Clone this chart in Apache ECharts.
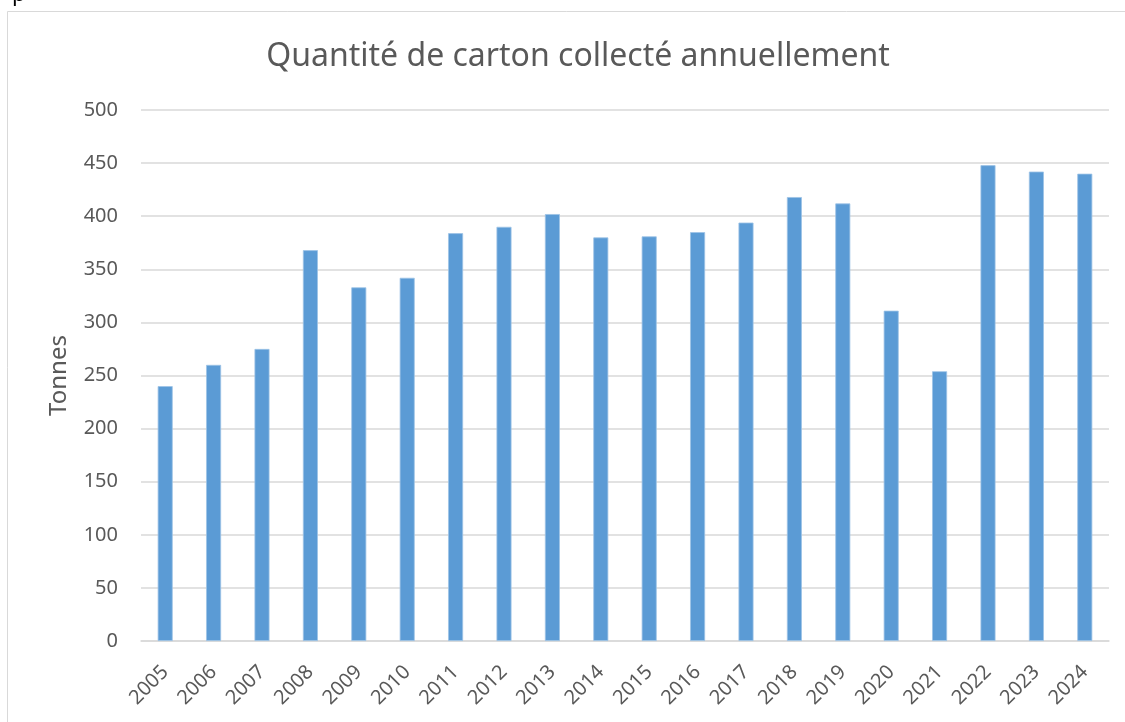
<!DOCTYPE html>
<html>
<head>
<meta charset="utf-8">
<script src="https://cdn.jsdelivr.net/npm/echarts@6/dist/echarts.min.js"></script>
<style>
html,body{margin:0;padding:0;background:#fff;}
#c{width:1125px;height:722px;}
</style>
</head>
<body>
<div id="c"></div>
<script>
const categories = ['2005','2006','2007','2008','2009','2010','2011','2012','2013','2014','2015','2016','2017','2018','2019','2020','2021','2022','2023','2024'];
const tonnes = [240, 260, 275, 368, 333, 342, 384, 390, 402, 380, 381, 385, 394, 418, 412, 311, 254, 448, 442, 440];
const titleText = 'Quantité de carton collecté annuellement';
const yAxisName = 'Tonnes';

const chart = echarts.init(document.getElementById('c'), null, {renderer: 'canvas'});
const font = '"Noto Sans", "Open Sans", sans-serif';
chart.setOption({
  animation: false,
  backgroundColor: '#ffffff',
  title: {
    text: titleText,
    left: 573, top: 36, textAlign: 'center',
    textStyle: {color: '#595959', fontSize: 32, fontWeight: 'normal', fontFamily: font}
  },
  graphic: [
    {type: 'rect', shape: {x: 7.5, y: 11.5, width: 1200, height: 800}, style: {fill: 'none', stroke: '#d9d9d9', lineWidth: 1}, silent: true},
    {type: 'text', left: 12, top: -16, style: {text: 'p', fill: '#000', font: '22px "Noto Sans"'}, silent: true}
  ],
  grid: {left: 141, right: 16, top: 110, bottom: 81, containLabel: false},
  xAxis: {
    type: 'category',
    data: categories,
    axisLine: {show: true, lineStyle: {color: '#d9d9d9', width: 1.5}},
    axisTick: {show: false},
    axisLabel: {color: '#595959', fontSize: 20, fontFamily: font, rotate: 45, margin: 28, interval: 0}
  },
  yAxis: {
    type: 'value',
    min: 0, max: 500, interval: 50,
    name: yAxisName,
    nameLocation: 'middle',
    nameGap: 70,
    nameTextStyle: {color: '#595959', fontSize: 24, fontFamily: font},
    axisLine: {show: false},
    axisTick: {show: false},
    axisLabel: {color: '#595959', fontSize: 20, fontFamily: font, margin: 23},
    splitLine: {lineStyle: {color: '#d9d9d9', width: 1.5}}
  },
  series: [{
    type: 'bar',
    data: tonnes,
    barWidth: '31%',
    itemStyle: {color: '#5b9bd5', borderColor: '#9dc3e6', borderWidth: 0.8}
  }]
});
</script>
</body>
</html>
